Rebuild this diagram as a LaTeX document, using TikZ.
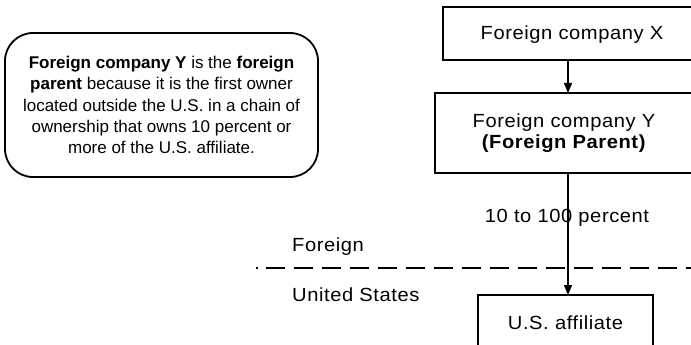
\documentclass[tikz,border=0pt]{standalone}
\usepackage{fontspec}
\setmainfont{Liberation Sans}[LetterSpace=3,FakeStretch=1.06]
\newfontfamily\notefont{Liberation Sans}
\usetikzlibrary{arrows.meta}
\begin{document}
\begin{tikzpicture}[x=1pt,y=-1pt,
  every node/.style={font=\fontsize{19}{20.5}\selectfont, inner sep=0pt, align=center},
  entity/.style={draw, line width=1.8pt},
  link/.style={line width=1.4pt, -{Triangle[length=10pt,width=8pt]}},
  note/.style={draw, line width=1.8pt, rounded corners=28pt,
    font=\notefont\fontsize{17}{21.3}\selectfont}]
  \useasboundingbox (0,0) rectangle (691,345);
  \clip (0,0) rectangle (691,345);

  % explanatory note
  \node[note, minimum width=313pt, minimum height=144pt] (note) at (161.5,105)
    {\textbf{Foreign company Y} is the \textbf{foreign}\\
     \textbf{parent} because it is the first owner\\
     located outside the U.S. in a chain of\\
     ownership that owns 10 percent or\\
     more of the U.S. affiliate.};

  % ownership chain
  \node[entity, minimum width=250pt, minimum height=53pt] (x) at (568,33.5) {};
  \node (xt) at (572,35) {Foreign company X};
  \node[entity, minimum width=258pt, minimum height=80pt] (y) at (564,133) {};
  \node (yt) at (564,133) {Foreign company Y\\\textbf{(Foreign Parent)}};
  \node[entity, minimum width=175pt, minimum height=56pt] (us) at (565.5,323) {U.S. affiliate};

  \coordinate (xb) at (568,60);
  \coordinate (ytop) at (568,93);
  \coordinate (yb) at (568,173);
  \coordinate (ust) at (568,295);
  \draw[link] (xb) -- (ytop);
  \draw[link] (yb) -- (ust);

  \node (pct) at (567,218) {10 to 100 percent};

  % border between foreign and domestic
  \coordinate (b0) at (256,268);
  \coordinate (b1) at (691,268);
  \draw[line width=1.8pt, dash pattern=on 1.5pt off 8pt on 19pt off 9pt on 19pt off 9pt on 19pt off 9pt on 19pt off 9pt on 19pt off 9pt on 19pt off 9pt on 19pt off 9pt on 19pt off 9pt on 19pt off 9pt on 19pt off 9pt on 19pt off 9pt on 19pt off 9pt on 19pt off 9pt on 19pt off 9pt on 19pt off 9pt on 19pt off 9pt] (b0) -- (b1);

  \node[anchor=west] (fr) at (292,247) {Foreign};
  \node[anchor=west] (us0) at (292,295) {United States};
\end{tikzpicture}
\end{document}
